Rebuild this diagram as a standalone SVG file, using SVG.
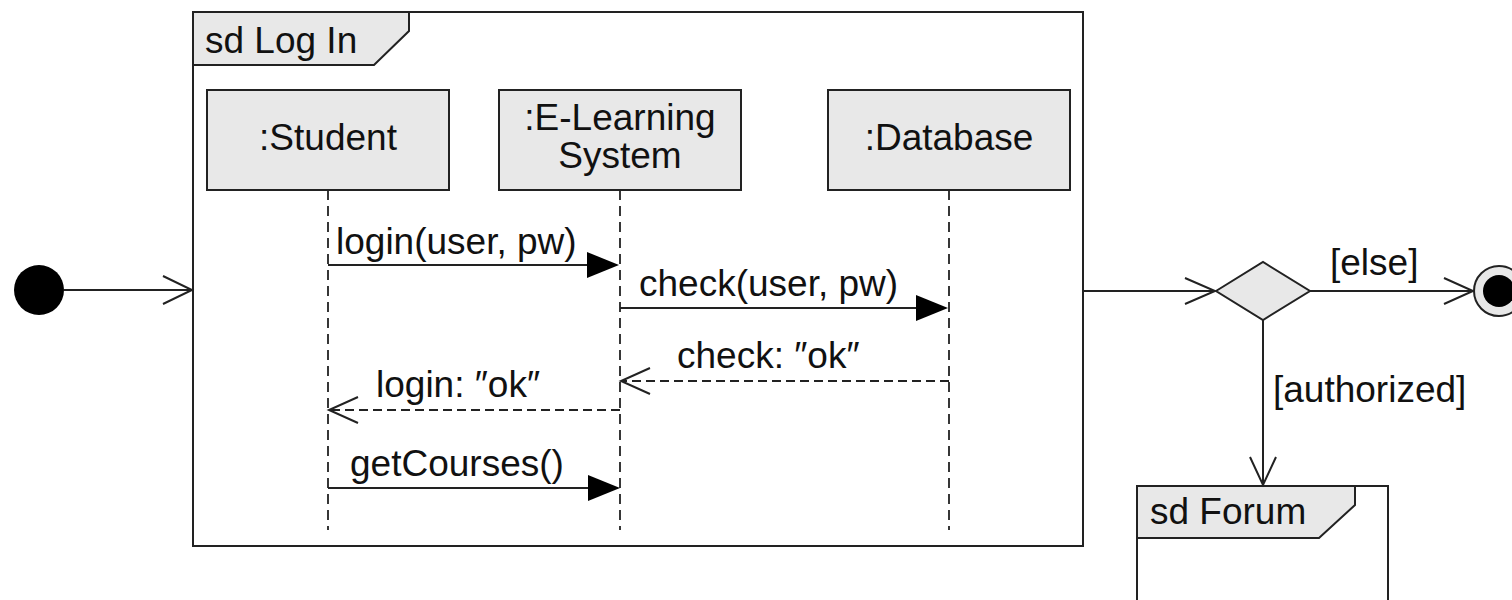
<svg xmlns="http://www.w3.org/2000/svg" width="1512" height="600" viewBox="0 0 1512 600">
<style>
text{font-family:"Liberation Sans",Arial,sans-serif;font-size:37px;fill:#111}
.frame{fill:none;stroke:#222;stroke-width:2}
.tab{fill:#e8e8e8;stroke:#222;stroke-width:2}
.box{fill:#e8e8e8;stroke:#222;stroke-width:2}
.life{stroke:#222;stroke-width:1.8;stroke-dasharray:10 6;fill:none}
.msg{stroke:#222;stroke-width:2;fill:none}
.ret{stroke:#222;stroke-width:2;stroke-dasharray:9 5;fill:none}
.open{stroke:#222;stroke-width:2;fill:none}
.mid{text-anchor:middle}
</style>
<g id="frame-login">
<rect class="frame" x="193" y="12" width="890" height="534"/>
<path class="tab" d="M193,12 H409 V31 L374,65 H193 Z"/>
<text x="205" y="53">sd Log In</text>
</g>
<g id="student">
<rect class="box" x="207" y="90" width="242" height="100"/>
<text class="mid" x="328" y="150">:Student</text>
<line class="life" x1="328" y1="190" x2="328" y2="530"/>
</g>
<g id="elearning">
<rect class="box" x="499" y="90" width="242" height="100"/>
<text class="mid" x="620" y="130">:E-Learning</text>
<text class="mid" x="620" y="168">System</text>
<line class="life" x1="620" y1="190" x2="620" y2="530"/>
</g>
<g id="database">
<rect class="box" x="828" y="90" width="242" height="100"/>
<text class="mid" x="949" y="150">:Database</text>
<line class="life" x1="949" y1="190" x2="949" y2="530"/>
</g>
<g id="initial">
<circle cx="39" cy="290" r="25" fill="#000"/>
</g>
<g id="decision">
<path d="M1216,291 L1263,262 L1310,291 L1263,320 Z" fill="#e8e8e8" stroke="#222" stroke-width="2"/>
</g>
<g id="final">
<circle cx="1499" cy="291" r="25" fill="#e8e8e8" stroke="#222" stroke-width="2"/>
<circle cx="1499" cy="291" r="16" fill="#000"/>
</g>
<g id="frame-forum">
<rect class="frame" x="1137" y="486" width="251" height="130"/>
<path class="tab" d="M1137,486 H1355 V505 L1319,538 H1137 Z"/>
<text x="1150" y="524">sd Forum</text>
</g>
<g id="connectors">
<line class="msg" x1="328" y1="265" x2="590" y2="265"/>
<path d="M587,252 L619,265 L587,278 Z" fill="#000"/>
<text x="336" y="254">login(user, pw)</text>
<line class="msg" x1="620" y1="308" x2="920" y2="308"/>
<path d="M916,295 L948,308 L916,321 Z" fill="#000"/>
<text x="639" y="296">check(user, pw)</text>
<line class="ret" x1="949" y1="381" x2="621" y2="381"/>
<path class="open" d="M650,368 L621,381 L650,394"/>
<text x="677" y="368">check: ″ok″</text>
<line class="ret" x1="620" y1="410" x2="329" y2="410"/>
<path class="open" d="M358,397 L329,410 L358,423"/>
<text x="376" y="397">login: ″ok″</text>
<line class="msg" x1="328" y1="488" x2="592" y2="488"/>
<path d="M588,475 L620,488 L588,501 Z" fill="#000"/>
<text x="350" y="476">getCourses()</text>
<line class="msg" x1="64" y1="290" x2="192" y2="290"/>
<path class="open" d="M163,276 L192,290 L163,304"/>
<line class="msg" x1="1083" y1="291" x2="1215" y2="291"/>
<path class="open" d="M1185,278 L1215,291 L1185,304"/>
<line class="msg" x1="1310" y1="291" x2="1473" y2="291"/>
<path class="open" d="M1444,278 L1473,291 L1444,304"/>
<text x="1330" y="275">[else]</text>
<line class="msg" x1="1263" y1="320" x2="1263" y2="485"/>
<path class="open" d="M1250,457 L1263,485 L1276,457"/>
<text x="1273" y="402">[authorized]</text>
</g>
</svg>
